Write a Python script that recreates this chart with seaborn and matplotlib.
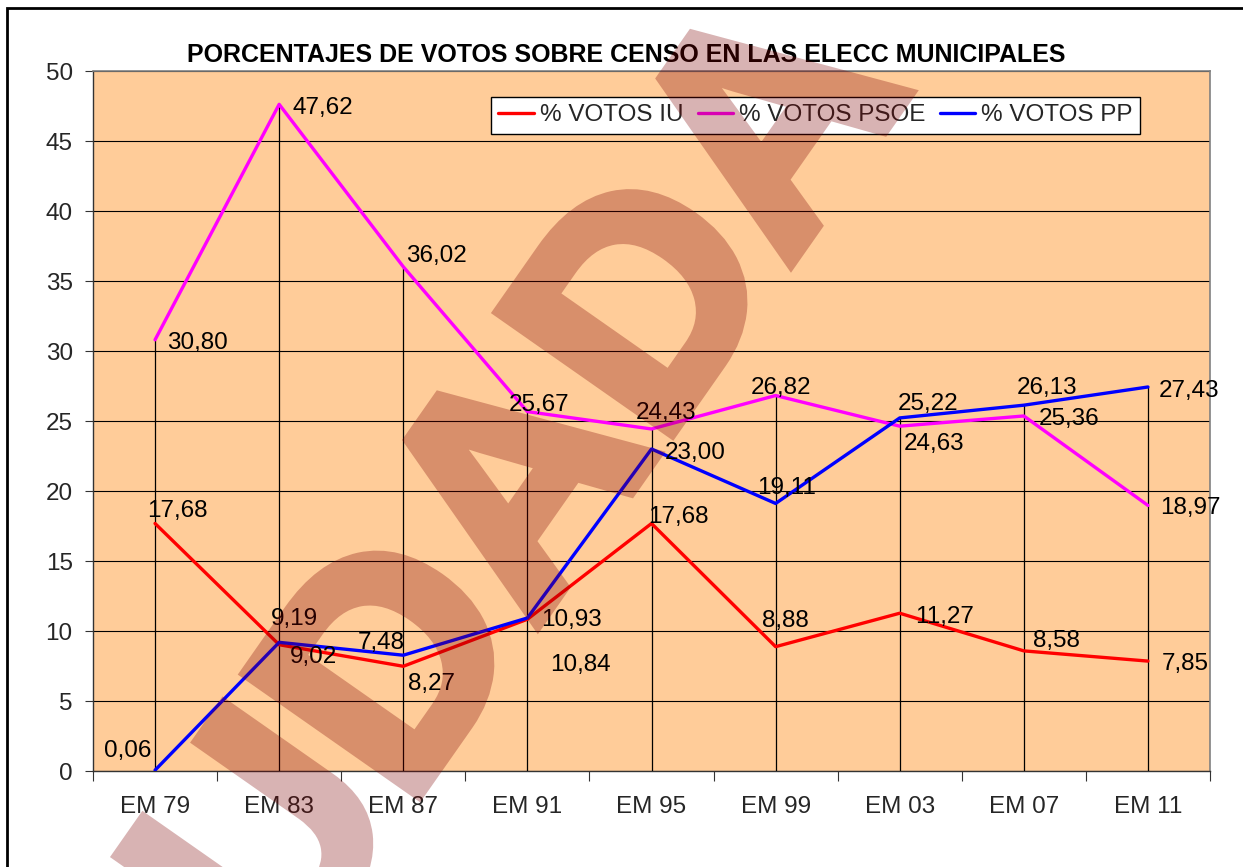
import numpy as np
import pandas as pd
import matplotlib
matplotlib.use("Agg")
import matplotlib.pyplot as plt
import matplotlib.patheffects as pe
import seaborn as sns
from matplotlib.patches import Rectangle

# ---------------- data ----------------
categories = ["EM 79", "EM 83", "EM 87", "EM 91", "EM 95", "EM 99", "EM 03", "EM 07", "EM 11"]
votos_iu = [17.68, 9.02, 7.48, 10.84, 17.68, 8.88, 11.27, 8.58, 7.85]
votos_psoe = [30.80, 47.62, 36.02, 25.67, 24.43, 26.82, 24.63, 25.36, 18.97]
votos_pp = [0.06, 9.19, 8.27, 10.93, 23.00, 19.11, 25.22, 26.13, 27.43]
series_names = ["% VOTOS IU", "% VOTOS PSOE", "% VOTOS PP"]
y_ticks = [0, 5, 10, 15, 20, 25, 30, 35, 40, 45, 50]
title = "PORCENTAJES DE VOTOS SOBRE CENSO EN LAS ELECC MUNICIPALES"
watermark = "UDADA"

# ---------------- style ----------------
colors = ["#FF0000", "#FF00FF", "#0000FF"]
# label offsets (pixels: dx right, dy down) of label centre from the point
off_iu = [(22, -15), (34, 10), (-22, -26), (53, 43), (27, -9), (10, -28), (45, 1), (33, -13), (37, 0)]
off_psoe = [(42, 1), (44, 1), (33, -13), (12, -9), (15, -19), (5, -10), (34, 15), (45, 0), (42, 0)]
off_pp = [(-27, -22), (15, -26), (28, 26), (44, -1), (44, 1), (11, -18), (28, -17), (23, -20), (41, 1)]

W, H = 1243, 867
FS = 17.5
sns.set_style("white")
plt.rcParams["font.family"] = ["Liberation Sans", "DejaVu Sans"]

x_pos = np.arange(len(categories))
df = pd.DataFrame({
    "x": np.concatenate([x_pos, x_pos, x_pos]),
    "val": votos_iu + votos_psoe + votos_pp,
    "serie": [n for n in series_names for _ in categories],
})

fig = plt.figure(figsize=(W / 100, H / 100), dpi=100)
fig.patch.set_facecolor("white")
ax = fig.add_axes([93 / W, 1 - 771 / H, (1210 - 93) / W, 700 / H])
ax.set_facecolor("#FFCC99")

sns.lineplot(data=df, x="x", y="val", hue="serie", hue_order=series_names,
             palette=colors, linewidth=2.4, sort=False, ax=ax, zorder=5)

# drop lines
tops = np.max(np.array([votos_iu, votos_psoe, votos_pp]), axis=0)
ax.vlines(x_pos, 0, tops, colors="black", linewidth=0.9, zorder=3)

ax.set_xlim(-0.5, len(categories) - 0.5)
ax.set_ylim(0, 50)
ax.set_yticks(y_ticks)
ax.set_yticklabels([str(t) for t in y_ticks], fontsize=FS)
ax.yaxis.grid(True, color="black", linewidth=0.8)
ax.xaxis.grid(False)
ax.set_axisbelow(True)
ax.tick_params(axis="y", which="major", direction="out", length=6, width=0.8,
               color="#333333", pad=8.6, left=True)
ax.set_xticks(x_pos)
ax.set_xticklabels(categories, fontsize=FS)
ax.set_xticks(np.arange(-0.5, len(categories)), minor=True)
ax.tick_params(axis="x", which="major", length=0, pad=18)
ax.tick_params(axis="x", which="minor", direction="out", length=7, width=0.8,
               color="#333333", bottom=True)
ax.set_xlabel("")
ax.set_ylabel("")
for side in ["top", "right"]:
    ax.spines[side].set_color("#808080")
    ax.spines[side].set_linewidth(1.2)
for side in ["left", "bottom"]:
    ax.spines[side].set_color("#333333")
    ax.spines[side].set_linewidth(1.0)

# data labels
def fmt(v):
    return f"{v:.2f}".replace(".", ",")

for vals, offs in [(votos_iu, off_iu), (votos_psoe, off_psoe), (votos_pp, off_pp)]:
    for xi, v, (dx, dy) in zip(x_pos, vals, offs):
        ax.annotate(fmt(v), (xi, v), xytext=(dx * 0.72, -(dy + 8.7) * 0.72),
                    textcoords="offset points", ha="center", va="baseline",
                    fontsize=FS, color="black", zorder=6)

# legend
handles, labels = ax.get_legend_handles_labels()
leg = ax.legend(handles, labels, ncol=3, loc="upper left",
                bbox_to_anchor=((491 - 93) / 1117, (771 - 97) / 700),
                borderaxespad=0, fontsize=FS, frameon=True, fancybox=False,
                handlelength=1.45, handletextpad=0.25, columnspacing=0.6,
                borderpad=0.3, framealpha=1)
leg.get_frame().set_edgecolor("black")
leg.get_frame().set_linewidth(1.0)
leg.set_zorder(7)

# title
fig.text(626 / W, 1 - 61.5 / H, title, ha="center", va="baseline",
         fontsize=18.0, fontweight="bold", color="black")

# outer frame (top and left visible)
fig.add_artist(Rectangle((7 / W, -0.2), 2.0, 1.2 - 8 / H,
                         transform=fig.transFigure, fill=False,
                         edgecolor="black", linewidth=2.0))

# watermark (opaque drawing, made translucent as a whole layer)
def layer_alpha(img, dpi):
    out = img.copy()
    out[..., 3] *= 0.3
    return out, 0, 0

wm_color = (126 / 255, 0, 0)
wm = fig.text(532 / W, 1 - 494 / H, watermark, rotation=55, rotation_mode="anchor",
              ha="center", va="center", fontsize=220, fontweight="bold",
              color=wm_color, zorder=20)
wm.set_path_effects([pe.withStroke(linewidth=9, foreground=wm_color,
                                   joinstyle="miter")])
wm.set_agg_filter(layer_alpha)

fig.savefig("out.png", dpi=100)
